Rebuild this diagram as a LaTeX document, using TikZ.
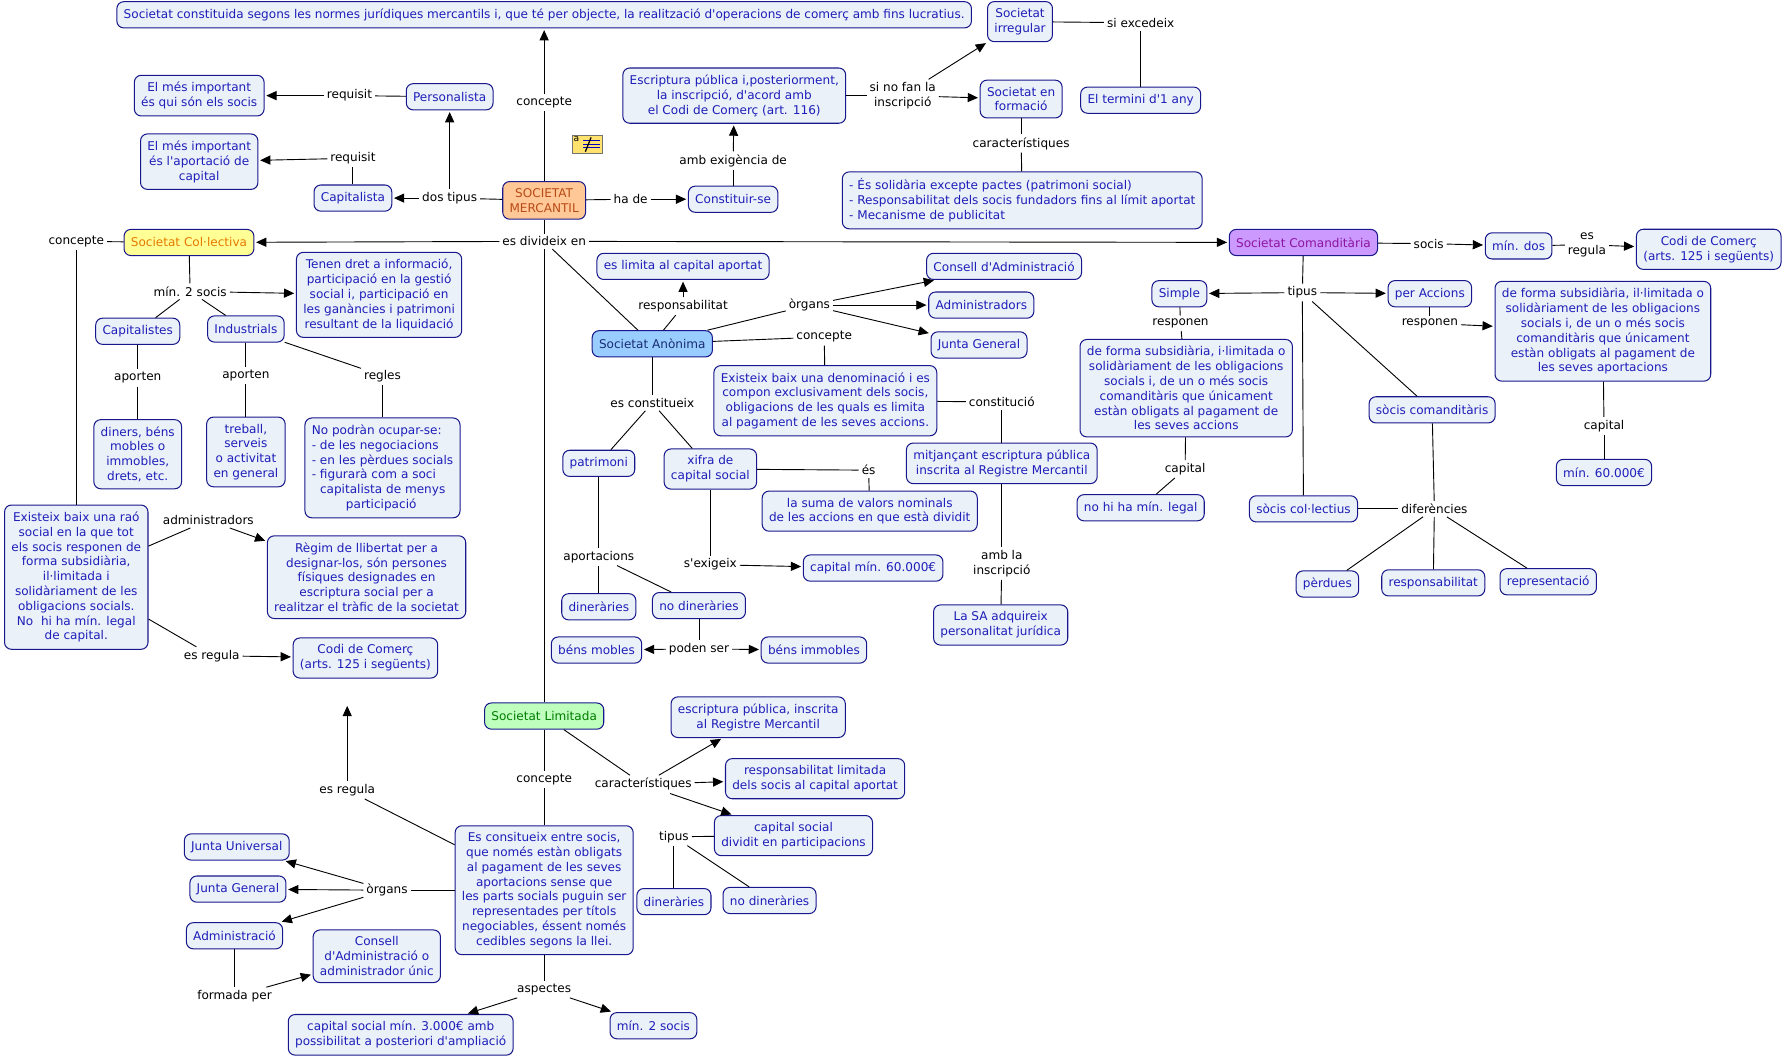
\documentclass[tikz,border=0pt]{standalone}
\usepackage{fontspec}
\newfontfamily\dvs{DejaVu Sans}
\usetikzlibrary{arrows.meta}
\definecolor{cbord}{RGB}{24,24,140}
\definecolor{cfill}{RGB}{234,241,248}
\definecolor{ctext}{RGB}{30,30,185}
\definecolor{cmerf}{RGB}{255,200,150}
\definecolor{cmert}{RGB}{185,75,25}
\definecolor{ccolf}{RGB}{255,255,150}
\definecolor{ccolt}{RGB}{230,120,0}
\definecolor{canof}{RGB}{153,204,255}
\definecolor{canot}{RGB}{25,45,115}
\definecolor{ccomf}{RGB}{204,153,255}
\definecolor{ccomt}{RGB}{140,20,160}
\definecolor{climf}{RGB}{190,255,190}
\definecolor{climt}{RGB}{0,125,0}
\definecolor{iconf}{RGB}{255,225,110}
\newcommand\myfs{\dvs\fontsize{10.6}{13}\selectfont}
\tikzset{
  concept/.style={draw=cbord, fill=cfill, text=ctext, rounded corners=6pt, align=center,
    inner xsep=6pt, inner ysep=6pt, minimum height=23pt, font=\myfs, line width=0.9pt},
  lbl/.style={text=black, inner sep=2.5pt, align=center, font=\myfs},
  con/.style={draw=black, line width=0.8pt},
  arr/.style={con, -{Triangle[length=9pt,width=8pt]}, shorten >=1.5pt},
}
\begin{document}
\begin{tikzpicture}[x=1pt,y=-1pt]
\fill[white] (0,0) rectangle (1568,930);
\useasboundingbox (0,0) rectangle (1568,930);

% ---------- top part ----------
\node[concept] (top) at (478,13) {Societat constituida segons les normes jurídiques mercantils i, que té per objecte, la realització d'operacions de comerç amb fins lucratius.};
\node[concept] (imp1) at (175,84) {El més important\\ és qui són els socis};
\node[concept] (pers) at (395,85) {Personalista};
\node[concept] (imp2) at (175,142) {El més important\\és l'aportació de\\capital};
\node[concept] (capi) at (310,174) {Capitalista};
\node[concept, fill=cmerf, text=cmert] (sm) at (478,176) {SOCIETAT\\MERCANTIL};
\node[concept] (const) at (644,175) {Constituir-se};
\node[concept] (escr) at (645,84) {Escriptura pública i,posteriorment,\\la inscripció, d'acord amb\\el Codi de Comerç (art. 116)};
\node[concept] (irreg) at (896,19) {Societat\\irregular};
\node[concept] (form) at (897,87) {Societat en\\formació};
\node[concept] (term) at (1002,88) {El termini d'1 any};
\node[concept, align=left] (carl) at (898,176) {- És solidària excepte pactes (patrimoni social)\\- Responsabilitat dels socis fundadors fins al límit aportat\\- Mecanisme de publicitat};

\node[lbl] (lconcA) at (478,90) {concepte};
\node[lbl] (lreqA) at (307,84) {requisit};
\node[lbl] (lreqB) at (310,139) {requisit};
\node[lbl] (ldos) at (395,174) {dos tipus};
\node[lbl] (lhade) at (554,175) {ha de};
\node[lbl] (lexig) at (644,141) {amb exigència de};
\node[lbl] (lsinofan) at (793,84) {si no fan la\\inscripció};
\node[lbl] (lsiexc) at (1002,20) {si excedeix};
\node[lbl] (lcarA) at (897,126) {característiques};

\draw[con] (sm) -- (lconcA); \draw[arr] (lconcA) -- (top);
\draw[con] (pers) -- (lreqA); \draw[arr] (lreqA) -- (imp1);
\draw[con] (capi) -- (lreqB); \draw[arr] (lreqB) -- (imp2);
\draw[con] (sm) -- (ldos); \draw[arr] (ldos) -- (capi); \draw[arr] (ldos) -- (pers);
\draw[con] (sm) -- (lhade); \draw[arr] (lhade) -- (const);
\draw[con] (const) -- (lexig); \draw[arr] (lexig) -- (escr);
\draw[con] (escr) -- (lsinofan); \draw[arr] (lsinofan) -- (irreg); \draw[arr] (lsinofan) -- (form);
\draw[con] (irreg) -- (lsiexc); \draw[con] (lsiexc) -- (term);
\draw[con] (form) -- (lcarA); \draw[con] (lcarA) -- (carl);

% note icon
\node[draw=black!55, fill=iconf, minimum width=27pt, minimum height=16pt, inner sep=0pt, line width=0.6pt] (icon) at (516,127) {};
\node[font=\dvs\fontsize{8}{8}\selectfont, inner sep=0pt, anchor=north west] (icona) at ([xshift=1.5pt,yshift=-0.5pt]icon.north west) {a};
\draw[blue!75!black, line width=0.7pt] ([xshift=10pt,yshift=-5pt]icon.north west) -- ([xshift=-3pt,yshift=-5pt]icon.north east)
  ([xshift=10pt,yshift=-8pt]icon.north west) -- ([xshift=-3pt,yshift=-8pt]icon.north east)
  ([xshift=10pt,yshift=-11pt]icon.north west) -- ([xshift=-3pt,yshift=-11pt]icon.north east);
\draw[black, line width=1.1pt] ([xshift=12pt,yshift=2pt]icon.south west) -- ([xshift=17pt,yshift=-2pt]icon.north west);

% ---------- main division ----------
\node[lbl] (ldiv) at (478,212) {es divideix en};
\node[concept, fill=ccolf, text=ccolt] (col) at (166,213) {Societat Col·lectiva};
\node[concept, fill=canof, text=canot] (sa) at (573,302) {Societat Anònima};
\node[concept, fill=ccomf, text=ccomt] (com) at (1145,213) {Societat Comanditària};
\node[concept, fill=climf, text=climt] (sl) at (478,629) {Societat Limitada};
\draw[con] (sm) -- (ldiv);
\draw[arr] (ldiv) -- (col); \draw[arr] (ldiv) -- (com);
\draw[con] (ldiv) -- (sa); \draw[con] (ldiv) -- (sl);

% ---------- Col·lectiva ----------
\node[lbl] (lconcB) at (67,212) {concepte};
\node[concept] (exc) at (67,507) {Existeix baix una raó\\social en la que tot\\els socis responen de\\forma subsidiària,\\il·limitada i\\solidàriament de les\\obligacions socials.\\No\ \ hi ha mín. legal\\de capital.};
\draw[con] (col) -- (lconcB); \draw[con] (lconcB) -- (exc);
\node[lbl] (lmin2) at (167,256) {mín. 2 socis};
\node[concept] (tenen) at (333,259) {Tenen dret a informació,\\participació en la gestió\\social i, participació en\\les ganàncies i patrimoni\\resultant de la liquidació};
\node[concept] (capis) at (121,291) {Capitalistes};
\node[concept] (indus) at (216,289) {Industrials};
\draw[con] (col) -- (lmin2); \draw[arr] (lmin2) -- (tenen);
\draw[con] (lmin2) -- (capis); \draw[con] (lmin2) -- (indus);
\node[lbl] (lapA) at (121,332) {aporten};
\node[lbl] (lapB) at (216,330) {aporten};
\node[concept] (diners) at (121,399) {diners, béns\\mobles o\\immobles,\\drets, etc.};
\node[concept] (treball) at (216,397) {treball,\\serveis\\o activitat\\en general};
\node[lbl] (lregl) at (336,330) {regles};
\node[concept, align=left] (nopod) at (336,411) {No podràn ocupar-se:\\- de les negociacions\\- en les pèrdues socials\\- figurarà com a soci\\\hphantom{- }capitalista de menys\\\hspace*{30pt}participació};
\draw[con] (capis) -- (lapA); \draw[con] (lapA) -- (diners);
\draw[con] (indus) -- (lapB); \draw[con] (lapB) -- (treball);
\draw[con] (indus) -- (lregl); \draw[con] (lregl) -- (nopod);
\node[lbl] (ladm) at (183,457) {administradors};
\node[concept] (regim) at (322,507) {Règim de llibertat per a\\designar-los, són persones\\físiques designades en\\escriptura social per a\\realitzar el tràfic de la societat};
\draw[con] (exc) -- (ladm); \draw[arr] (ladm) -- (regim);
\node[lbl] (lregA) at (186,576) {es regula};
\node[concept] (codiA) at (321,578) {Codi de Comerç\\(arts. 125 i següents)};
\draw[con] (exc) -- (lregA); \draw[arr] (lregA) -- (codiA);

% ---------- Anònima ----------
\node[lbl] (lresp) at (600,269) {responsabilitat};
\node[concept] (limita) at (600,234) {es limita al capital aportat};
\draw[con] (sa) -- (lresp); \draw[arr] (lresp) -- (limita);
\node[lbl] (lorgA) at (711,268) {òrgans};
\node[concept] (consell) at (882,234) {Consell d'Administració};
\node[concept] (admins) at (862,268) {Administradors};
\node[concept] (juntaA) at (860,303) {Junta General};
\draw[con] (sa) -- (lorgA);
\draw[arr] (lorgA) -- (consell); \draw[arr] (lorgA) -- (admins); \draw[arr] (lorgA) -- (juntaA);
\node[lbl] (lconcC) at (724,296) {concepte};
\node[concept] (exsa) at (725,352) {Existeix baix una denominació i es\\compon exclusivament dels socis,\\obligacions de les quals es limita\\al pagament de les seves accions.};
\draw[con] (sa) -- (lconcC); \draw[con] (lconcC) -- (exsa);
\node[lbl] (lconstit) at (880,353) {constitució};
\node[concept] (mitj) at (880,407) {mitjançant escriptura pública\\inscrita al Registre Mercantil};
\draw[con] (exsa) -- (lconstit); \draw[con] (lconstit) -- (mitj);
\node[lbl] (lambla) at (880,495) {amb la\\inscripció};
\node[concept] (adq) at (879,549) {La SA adquireix\\personalitat jurídica};
\draw[con] (mitj) -- (lambla); \draw[con] (lambla) -- (adq);
\node[lbl] (lescon) at (573,354) {es constitueix};
\node[concept] (patr) at (526,407) {patrimoni};
\node[concept] (xifra) at (624,412) {xifra de\\capital social};
\draw[con] (sa) -- (lescon); \draw[con] (lescon) -- (patr); \draw[con] (lescon) -- (xifra);
\node[lbl] (les) at (763,413) {és};
\node[concept] (suma) at (764,449) {la suma de valors nominals\\de les accions en que està dividit};
\draw[con] (xifra) -- (les); \draw[con] (les) -- (suma);
\node[lbl] (lsexig) at (624,496) {s'exigeix};
\node[concept] (capsix) at (767,499) {capital mín. 60.000€};
\draw[con] (xifra) -- (lsexig); \draw[arr] (lsexig) -- (capsix);
\node[lbl] (laport) at (526,489) {aportacions};
\node[concept] (dinA) at (526,533) {dineràries};
\node[concept] (nodinA) at (614,532) {no dineràries};
\draw[con] (patr) -- (laport); \draw[con] (laport) -- (dinA); \draw[con] (laport) -- (nodinA);
\node[lbl] (lpoden) at (614,570) {poden ser};
\node[concept] (bmob) at (524,571) {béns mobles};
\node[concept] (bimm) at (715,571) {béns immobles};
\draw[con] (nodinA) -- (lpoden); \draw[arr] (lpoden) -- (bmob); \draw[arr] (lpoden) -- (bimm);

% ---------- Comanditària ----------
\node[lbl] (lsocis) at (1255,214) {socis};
\node[concept] (mindos) at (1334,216) {mín. dos};
\node[lbl] (lregB) at (1394,215) {es\\regula};
\node[concept] (codiB) at (1501,219) {Codi de Comerç\\(arts. 125 i següents)};
\draw[con] (com) -- (lsocis); \draw[arr] (lsocis) -- (mindos);
\draw[con] (mindos) -- (lregB); \draw[arr] (lregB) -- (codiB);
\node[lbl] (ltipA) at (1144,257) {tipus};
\node[concept] (simple) at (1036,258) {Simple};
\node[concept] (peracc) at (1256,258) {per Accions};
\node[concept] (scom) at (1258,360) {sòcis comanditàris};
\node[concept] (scol) at (1145,447) {sòcis col·lectius};
\draw[con] (com) -- (ltipA); \draw[arr] (ltipA) -- (simple); \draw[arr] (ltipA) -- (peracc);
\draw[con] (ltipA) -- (scom); \draw[con] (ltipA) -- (scol);
\node[lbl] (lrespoA) at (1037,284) {responen};
\node[concept] (defs) at (1042,341) {de forma subsidiària, i·limitada o\\solidàriament de les obligacions\\socials i, de un o més socis\\comanditàris que únicament\\estàn obligats al pagament de\\les seves accions};
\draw[con] (simple) -- (lrespoA); \draw[con] (lrespoA) -- (defs);
\node[lbl] (lcapA) at (1041,412) {capital};
\node[concept] (nohi) at (1002,446) {no hi ha mín. legal};
\draw[con] (defs) -- (lcapA); \draw[con] (lcapA) -- (nohi);
\node[lbl] (lrespoB) at (1256,284) {responen};
\node[concept] (defa) at (1408,291) {de forma subsidiària, il·limitada o\\solidàriament de les obligacions\\socials i, de un o més socis\\comanditàris que únicament\\estàn obligats al pagament de\\les seves aportacions};
\draw[con] (peracc) -- (lrespoB); \draw[arr] (lrespoB) -- (defa);
\node[lbl] (lcapB) at (1409,374) {capital};
\node[concept] (minsix) at (1409,415) {mín. 60.000€};
\draw[con] (defa) -- (lcapB); \draw[con] (lcapB) -- (minsix);
\node[lbl] (ldif) at (1260,447) {diferències};
\node[concept] (perd) at (1166,513) {pèrdues};
\node[concept] (respb) at (1259,512) {responsabilitat};
\node[concept] (repr) at (1360,511) {representació};
\draw[con] (scom) -- (ldif); \draw[con] (scol) -- (ldif);
\draw[con] (ldif) -- (perd); \draw[con] (ldif) -- (respb); \draw[con] (ldif) -- (repr);

% ---------- Limitada ----------
\node[lbl] (lconcD) at (478,685) {concepte};
\node[concept] (escons) at (478,782) {Es consitueix entre socis,\\que només estàn obligats\\al pagament de les seves\\aportacions sense que\\les parts socials puguin ser\\representades per títols\\negociables, éssent només\\cedibles segons la llei.};
\draw[con] (sl) -- (lconcD); \draw[con] (lconcD) -- (escons);
\node[lbl] (lcarB) at (565,689) {característiques};
\node[concept] (escrB) at (666,630) {escriptura pública, inscrita\\al Registre Mercantil};
\node[concept] (resplim) at (716,684) {responsabilitat limitada\\dels socis al capital aportat};
\node[concept] (capdiv) at (697,734) {capital social\\dividit en participacions};
\draw[con] (sl) -- (lcarB);
\draw[arr] (lcarB) -- (escrB); \draw[arr] (lcarB) -- (resplim); \draw[arr] (lcarB) -- (capdiv);
\node[lbl] (ltipB) at (592,735) {tipus};
\node[concept] (dinB) at (592,792) {dineràries};
\node[concept] (nodinB) at (676,791) {no dineràries};
\draw[con] (capdiv) -- (ltipB); \draw[con] (ltipB) -- (dinB); \draw[con] (ltipB) -- (nodinB);
\node[lbl] (lregC) at (305,694) {es regula};
\draw[con] (escons) -- (lregC);
\draw[arr, shorten >=24pt] (lregC.north) -- (lregC.north |- codiA.south);
\node[lbl] (lorgB) at (340,782) {òrgans};
\node[concept] (juniv) at (208,744) {Junta Universal};
\node[concept] (jgen) at (209,781) {Junta General};
\node[concept] (admin) at (206,822) {Administració};
\draw[con] (escons) -- (lorgB);
\draw[arr] (lorgB) -- (juniv); \draw[arr] (lorgB) -- (jgen); \draw[arr] (lorgB) -- (admin);
\node[lbl] (lform) at (206,875) {formada per};
\node[concept] (consu) at (331,840) {Consell\\d'Administració o\\administrador únic};
\draw[con] (admin) -- (lform); \draw[arr] (lform) -- (consu);
\node[lbl] (lasp) at (478,869) {aspectes};
\node[concept] (capt) at (352,909) {capital social mín. 3.000€ amb\\possibilitat a posteriori d'ampliació};
\node[concept] (mintwo) at (574,901) {mín. 2 socis};
\draw[con] (escons) -- (lasp); \draw[arr] (lasp) -- (capt); \draw[arr] (lasp) -- (mintwo);
\end{tikzpicture}
\end{document}
